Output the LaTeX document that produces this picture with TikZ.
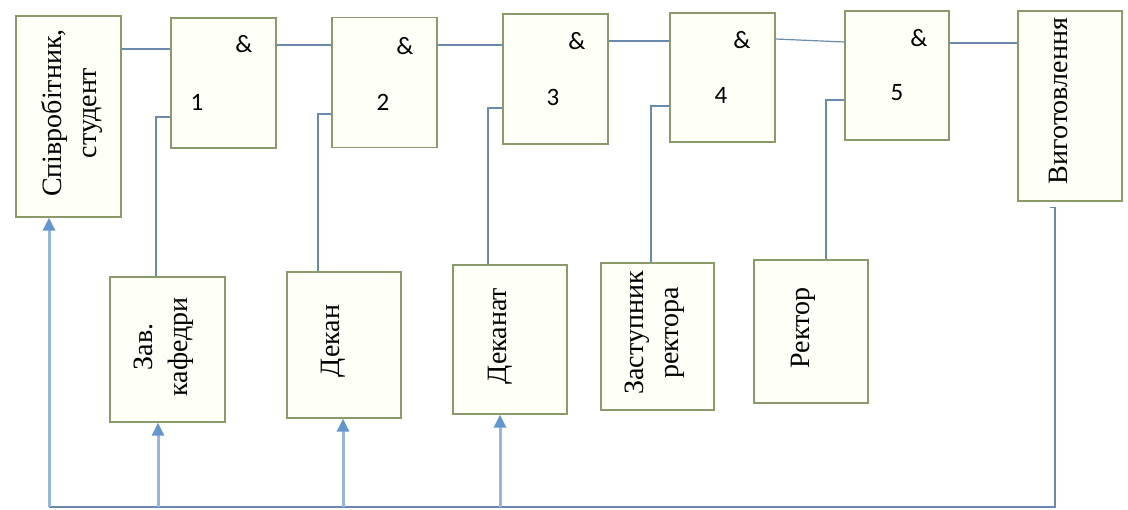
\documentclass[tikz,border=0pt]{standalone}
\usepackage{fontspec}
\setmainfont{Liberation Serif}
\newfontfamily\boxfont{Liberation Serif}
\newfontfamily\gatefont{Carlito}
\usetikzlibrary{arrows.meta}
\definecolor{boxline}{RGB}{138,154,106}
\definecolor{boxfill}{RGB}{254,255,247}
\definecolor{wire}{RGB}{105,138,172}
\definecolor{fb}{RGB}{150,182,218}
\definecolor{tipc}{RGB}{100,150,205}
\begin{document}
\begin{tikzpicture}[x=1pt,y=-1pt,
 blk/.style={draw=boxline, fill=boxfill, line width=1.3pt, inner sep=0pt},
 vtext/.style={rotate=90, font=\boxfont\fontsize{28}{35}\selectfont, align=center, inner sep=0pt},
 gtext/.style={font=\gatefont\fontsize{25}{30}\selectfont, inner sep=0pt},
 link/.style={draw=wire, line width=1.2pt},
 feed/.style={draw=fb, line width=3pt},
 up/.style={feed, -{Triangle[length=13pt,width=12pt,fill=tipc,color=tipc]}}
]
\useasboundingbox (0,0) rectangle (1128,510);
% top row
\node[blk, minimum width=105pt, minimum height=201pt] (A) at (68.5,116.5) {};
\node[blk, minimum width=105pt, minimum height=130pt] (g1) at (223.5,83) {};
\node[blk, minimum width=105pt, minimum height=130pt] (g2) at (384.5,82.5) {};
\node[blk, minimum width=105pt, minimum height=130pt] (g3) at (555.5,79) {};
\node[blk, minimum width=105pt, minimum height=129pt] (g4) at (722.5,77.5) {};
\node[blk, minimum width=104pt, minimum height=129pt] (g5) at (897,75.5) {};
\node[blk, minimum width=104pt, minimum height=190pt] (V) at (1070,106) {};
% bottom row
\node[blk, minimum width=115pt, minimum height=145pt] (zav) at (167.5,349.5) {};
\node[blk, minimum width=114pt, minimum height=146pt] (dek) at (344,345) {};
\node[blk, minimum width=114pt, minimum height=149pt] (dkt) at (510,339.5) {};
\node[blk, minimum width=113pt, minimum height=147pt] (zas) at (657.5,336.5) {};
\node[blk, minimum width=114pt, minimum height=143pt] (rek) at (811,331.5) {};
% texts
\node[vtext] (tA) at (72,113) {Співробітник,\\студент};
\node[vtext] (tV) at (1058,101) {Виготовлення};
\node[vtext] (tzav) at (164,347) {Зав.\\кафедри};
\node[vtext] (tdek) at (333,341) {Декан};
\node[vtext] (tdkt) at (500,336) {Деканат};
\node[vtext] (tzas) at (655,333) {Заступник\\ректора};
\node[vtext] (trek) at (803,328) {Ректор};
% gate labels
\node[gtext] (a1) at (244,44) {\&};
\node[gtext] (n1) at (197,102) {1};
\node[gtext] (a2) at (405,46) {\&};
\node[gtext] (n2) at (383,102) {2};
\node[gtext] (a3) at (577,41) {\&};
\node[gtext] (n3) at (553,97) {3};
\node[gtext] (a4) at (742,40) {\&};
\node[gtext] (n4) at (721,95) {4};
\node[gtext] (a5) at (919,38) {\&};
\node[gtext] (n5) at (897,93) {5};
% chain
\draw[link] ([yshift=67.5pt]A.east) -- ([yshift=34pt]g1.west);
\draw[link] ([yshift=38pt]g1.east) -- ([yshift=37.5pt]g2.west);
\draw[link] ([yshift=37.5pt]g2.east) -- ([yshift=34pt]g3.west);
\draw[link] ([yshift=38pt]g3.east) -- ([yshift=36.5pt]g4.west);
\draw[link] ([yshift=38.5pt]g4.east) -- ([yshift=33.5pt]g5.west);
\draw[link] ([yshift=32.5pt]g5.east) -- ([yshift=63pt]V.west);
% second inputs
\draw[link] ([yshift=-34pt]g1.west) -| ([xshift=-11.5pt]zav.north);
\draw[link] ([yshift=-31.5pt]g2.west) -| ([xshift=-26pt]dek.north);
\draw[link] ([yshift=-29pt]g3.west) -| ([xshift=-22pt]dkt.north);
\draw[link] ([yshift=-28.5pt]g4.west) -| ([xshift=-6.5pt]zas.north);
\draw[link] ([yshift=-24.5pt]g5.west) -| ([xshift=15pt]rek.north);
% feedback
\coordinate (br) at (1055,507);
\coordinate (bl) at (49,507);
\draw[link] ([xshift=-20pt,yshift=-6pt]V.south) -- ([xshift=-15pt,yshift=-6pt]V.south) -- (br) -- (bl);
\draw[up] (bl) -- ([xshift=-19.5pt]A.south);
\draw[up] ([xshift=-9.5pt]zav.south |- bl) -- ([xshift=-9.5pt]zav.south);
\draw[up] ([xshift=-1pt]dek.south |- bl) -- ([xshift=-1pt]dek.south);
\draw[up] ([xshift=-10pt]dkt.south |- bl) -- ([xshift=-10pt]dkt.south);
\end{tikzpicture}
\end{document}
